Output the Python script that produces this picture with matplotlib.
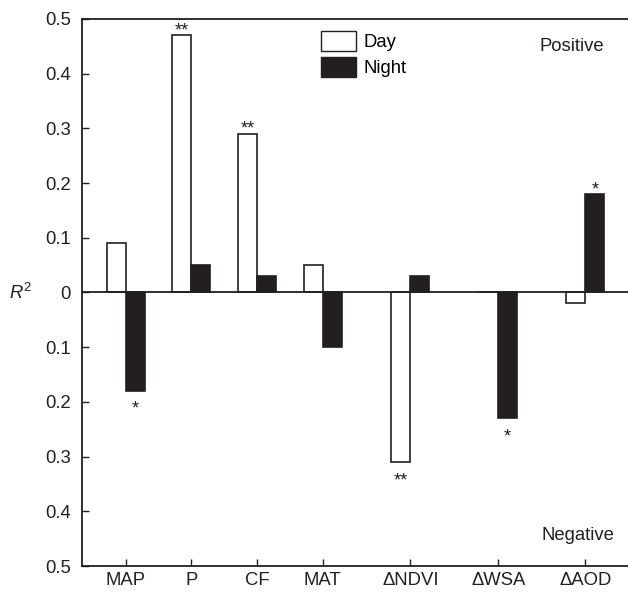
import numpy as np
import matplotlib
matplotlib.use("Agg")
import matplotlib.pyplot as plt
from matplotlib.patches import Patch

plt.rcParams['font.family'] = ['Liberation Sans', 'DejaVu Sans']
plt.rcParams['mathtext.fontset'] = 'custom'
plt.rcParams['mathtext.it'] = 'Liberation Sans:italic'
plt.rcParams['mathtext.rm'] = 'Liberation Sans'

# data (negative = negative correlation)
categories = ['MAP', 'P', 'CF', 'MAT', '\u0394NDVI', '\u0394WSA', '\u0394AOD']
day = [0.09, 0.47, 0.29, 0.05, -0.31, 0.0, -0.02]
night = [-0.18, 0.05, 0.03, -0.10, 0.03, -0.23, 0.18]
day_sig = ['', '**', '**', '', '**', '', '']
night_sig = ['*', '', '', '', '', '*', '*']
yticks = [-0.5, -0.4, -0.3, -0.2, -0.1, 0, 0.1, 0.2, 0.3, 0.4, 0.5]
ytick_labels = ['0.5', '0.4', '0.3', '0.2', '0.1', '0', '0.1', '0.2', '0.3', '0.4', '0.5']

# category positions (the last three are spaced wider in the original)
xpos = np.array([0, 1, 2, 3, 4.34, 5.68, 7.01])
w = 0.29
ink = '#231f20'
fs = 13.3

fig = plt.figure(figsize=(6.28, 5.93), dpi=100)
ax = fig.add_axes([0.1306, 0.0455, 0.8694, 0.9225])

ax.bar(xpos - w / 2, day, w, color='white', edgecolor=ink, linewidth=1.2)
ax.bar(xpos + w / 2, night, w, color=ink, edgecolor=ink, linewidth=1.2)
ax.axhline(0, color=ink, linewidth=1.3)

# significance stars
def stars(xs, vals, sig):
    for x, v, s in zip(xs, vals, sig):
        if s:
            off = 0.0 if v > 0 else -0.042
            ax.text(x, v + off, s, ha='center', va='baseline', fontsize=13, color=ink)

stars(xpos - w / 2, day, day_sig)
stars(xpos + w / 2, night, night_sig)

ax.set_xlim(-0.67, 7.66)
ax.set_ylim(-0.5, 0.5)
ax.set_yticks(yticks)
ax.set_yticklabels(ytick_labels)
ax.set_xticks(xpos)
ax.set_xticklabels(categories)
ax.tick_params(direction='in', length=5, width=1, labelsize=fs, colors=ink)
ax.tick_params(axis='x', pad=4)
ax.tick_params(axis='y', pad=8)

ax.spines['right'].set_visible(False)
for sp in ['left', 'bottom', 'top']:
    ax.spines[sp].set_linewidth(1.3)
    ax.spines[sp].set_color(ink)

ax.set_ylabel('$R^2$', rotation=0, fontsize=fs, va='center', color=ink)
ax.yaxis.set_label_coords(-0.112, 0.5)

ax.text(0.898, 0.95, 'Positive', transform=ax.transAxes, ha='center', va='center', fontsize=fs, color=ink)
ax.text(0.908, 0.056, 'Negative', transform=ax.transAxes, ha='center', va='center', fontsize=fs, color=ink)

handles = [Patch(facecolor='white', edgecolor=ink, label='Day'),
           Patch(facecolor=ink, edgecolor=ink, label='Night')]
ax.legend(handles=handles, loc='upper left', bbox_to_anchor=(0.41, 1.005), frameon=False,
          fontsize=fs, handlelength=1.9, handleheight=1.3, handletextpad=0.4,
          labelspacing=0.3, borderpad=0.3)

fig.savefig('out.png', dpi=100)
